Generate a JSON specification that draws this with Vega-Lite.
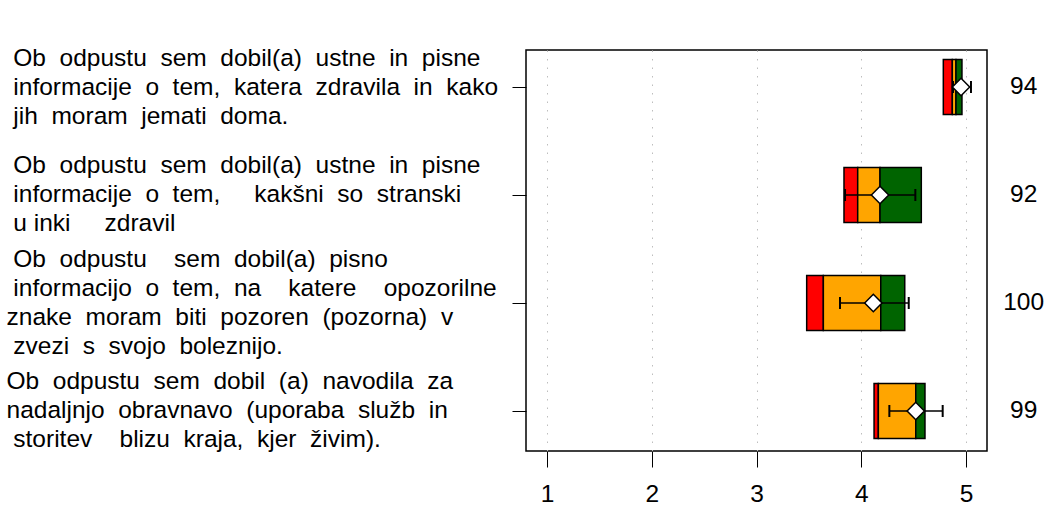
{
  "$schema": "https://vega.github.io/schema/vega-lite/v6.json",
  "autosize": {"type": "none"},
  "padding": {"left": 526, "top": 50, "right": 62, "bottom": 55},
  "width": 461,
  "height": 401,
  "background": "white",
  "config": {
    "font": "Liberation Sans",
    "view": {"stroke": "black", "strokeWidth": 1.5},
    "axis": {"labelFont": "Liberation Sans", "labelColor": "black"}
  },
  "datasets": {
    "segments": [
      {"row": 1, "seg": "red", "start": 4.783, "end": 4.869},
      {"row": 1, "seg": "orange", "start": 4.869, "end": 4.904},
      {"row": 1, "seg": "green", "start": 4.904, "end": 4.961},
      {"row": 2, "seg": "red", "start": 3.835, "end": 3.966},
      {"row": 2, "seg": "orange", "start": 3.966, "end": 4.179},
      {"row": 2, "seg": "green", "start": 4.179, "end": 4.573},
      {"row": 3, "seg": "red", "start": 3.479, "end": 3.638},
      {"row": 3, "seg": "orange", "start": 3.638, "end": 4.186},
      {"row": 3, "seg": "green", "start": 4.186, "end": 4.415},
      {"row": 4, "seg": "red", "start": 4.122, "end": 4.163},
      {"row": 4, "seg": "orange", "start": 4.163, "end": 4.520},
      {"row": 4, "seg": "green", "start": 4.520, "end": 4.608}
    ],
    "rows": [
      {"row": 1, "mean": 4.952, "lo": 4.876, "hi": 5.047, "n": "94"},
      {"row": 2, "mean": 4.179, "lo": 3.845, "hi": 4.516, "n": "92"},
      {"row": 3, "mean": 4.115, "lo": 3.797, "hi": 4.453, "n": "100"},
      {"row": 4, "mean": 4.520, "lo": 4.268, "hi": 4.777, "n": "99"}
    ]
  },
  "layer": [
    {
      "data": {"name": "segments"},
      "mark": {"type": "bar", "height": 55, "stroke": "black", "strokeWidth": 1.5},
      "encoding": {
        "x": {
          "field": "start", "type": "quantitative",
          "scale": {"domain": [0.8, 5.2], "nice": false, "zero": false, "padding": 0},
          "axis": {
            "orient": "bottom", "values": [1, 2, 3, 4, 5], "format": "d", "title": null,
            "domain": false, "grid": true, "gridColor": "#bebebe", "gridDash": [1.5, 7], "gridWidth": 1,
            "tickSize": 16, "tickColor": "black", "tickWidth": 1,
            "labelFontSize": 24.5, "labelPadding": 15, "labelFlush": false, "labelOverlap": false
          }
        },
        "x2": {"field": "end"},
        "y": {
          "field": "row", "type": "quantitative",
          "scale": {"domain": [0.6574, 4.3704], "reverse": true, "nice": false, "zero": false, "padding": 0},
          "axis": {
            "orient": "left", "values": [1, 2, 3, 4], "title": null,
            "domain": false, "grid": false,
            "tickSize": 14, "tickColor": "black", "tickWidth": 1,
            "labelAlign": "left", "labelBaseline": "middle", "labelPadding": 506,
            "labelOffset": {"condition": {"test": "datum.value == 3", "value": -43.5}, "value": -29},
            "labelLimit": 1000, "labelFontSize": 24.5, "labelLineHeight": 29,
            "labelFlush": false, "labelOverlap": false,
            "labelExpr": "datum.value == 1 ? ['\u200b\u00a0Ob \u00a0odpustu \u00a0sem \u00a0dobil(a) \u00a0ustne \u00a0in \u00a0pisne', '\u200b\u00a0informacije \u00a0o \u00a0tem, \u00a0katera \u00a0zdravila \u00a0in \u00a0kako', '\u200b\u00a0jih \u00a0moram \u00a0jemati \u00a0doma.'] : datum.value == 2 ? ['\u200b\u00a0Ob \u00a0odpustu \u00a0sem \u00a0dobil(a) \u00a0ustne \u00a0in \u00a0pisne', '\u200b\u00a0informacije \u00a0o \u00a0tem, \u00a0\u00a0\u00a0 kakšni \u00a0so \u00a0stranski', '\u200b\u00a0u inki \u00a0\u00a0\u00a0 zdravil'] : datum.value == 3 ? ['\u200b\u00a0Ob \u00a0odpustu \u00a0\u00a0 sem \u00a0dobil(a) \u00a0pisno', '\u200b\u00a0informacijo \u00a0o \u00a0tem, \u00a0na \u00a0\u00a0 katere \u00a0\u00a0 opozorilne', 'znake \u00a0moram \u00a0biti \u00a0pozoren \u00a0(pozorna) \u00a0v', '\u200b\u00a0zvezi \u00a0s \u00a0svojo \u00a0boleznijo.'] : ['Ob \u00a0odpustu \u00a0sem \u00a0dobil \u00a0(a) \u00a0navodila \u00a0za', 'nadaljnjo \u00a0obravnavo \u00a0(uporaba \u00a0služb \u00a0in', '\u200b\u00a0storitev \u00a0\u00a0 blizu \u00a0kraja, \u00a0kjer \u00a0živim).']"
          }
        },
        "color": {
          "field": "seg", "type": "nominal",
          "scale": {"domain": ["red", "orange", "green"], "range": ["#ff0000", "#ffa500", "#006400"]},
          "legend": null
        }
      }
    },
    {
      "data": {"name": "rows"},
      "mark": {"type": "rule", "color": "black", "strokeWidth": 1.5},
      "encoding": {
        "x": {"field": "lo", "type": "quantitative"},
        "x2": {"field": "hi"},
        "y": {"field": "row", "type": "quantitative"}
      }
    },
    {
      "data": {"name": "rows"},
      "mark": {"type": "tick", "orient": "vertical", "size": 12, "thickness": 2, "color": "black", "opacity": 1},
      "encoding": {
        "x": {"field": "lo", "type": "quantitative"},
        "y": {"field": "row", "type": "quantitative"}
      }
    },
    {
      "data": {"name": "rows"},
      "mark": {"type": "tick", "orient": "vertical", "size": 12, "thickness": 2, "color": "black", "opacity": 1},
      "encoding": {
        "x": {"field": "hi", "type": "quantitative"},
        "y": {"field": "row", "type": "quantitative"}
      }
    },
    {
      "data": {"name": "rows"},
      "mark": {"type": "point", "shape": "diamond", "size": 300, "filled": true, "fill": "white", "stroke": "black", "strokeWidth": 1.5, "opacity": 1},
      "encoding": {
        "x": {"field": "mean", "type": "quantitative"},
        "y": {"field": "row", "type": "quantitative"}
      }
    },
    {
      "data": {"name": "rows"},
      "mark": {"type": "text", "fontSize": 24.5, "align": "center", "baseline": "middle", "color": "black"},
      "encoding": {
        "x": {"datum": 5.55, "type": "quantitative"},
        "y": {"field": "row", "type": "quantitative"},
        "text": {"field": "n"}
      }
    },
    {
      "mark": {"type": "text", "text": "slabo", "fontSize": 24.5, "align": "center", "baseline": "middle", "color": "black"},
      "encoding": {
        "x": {"datum": 1.5, "type": "quantitative"},
        "y": {"datum": 0.435, "type": "quantitative"}
      }
    },
    {
      "mark": {"type": "text", "text": "dobro", "fontSize": 24.5, "align": "center", "baseline": "middle", "color": "black"},
      "encoding": {
        "x": {"datum": 4.49, "type": "quantitative"},
        "y": {"datum": 0.435, "type": "quantitative"}
      }
    },
    {
      "mark": {"type": "text", "text": "N", "fontSize": 24.5, "align": "center", "baseline": "middle", "color": "black"},
      "encoding": {
        "x": {"datum": 5.55, "type": "quantitative"},
        "y": {"datum": 0.435, "type": "quantitative"}
      }
    }
  ]
}
